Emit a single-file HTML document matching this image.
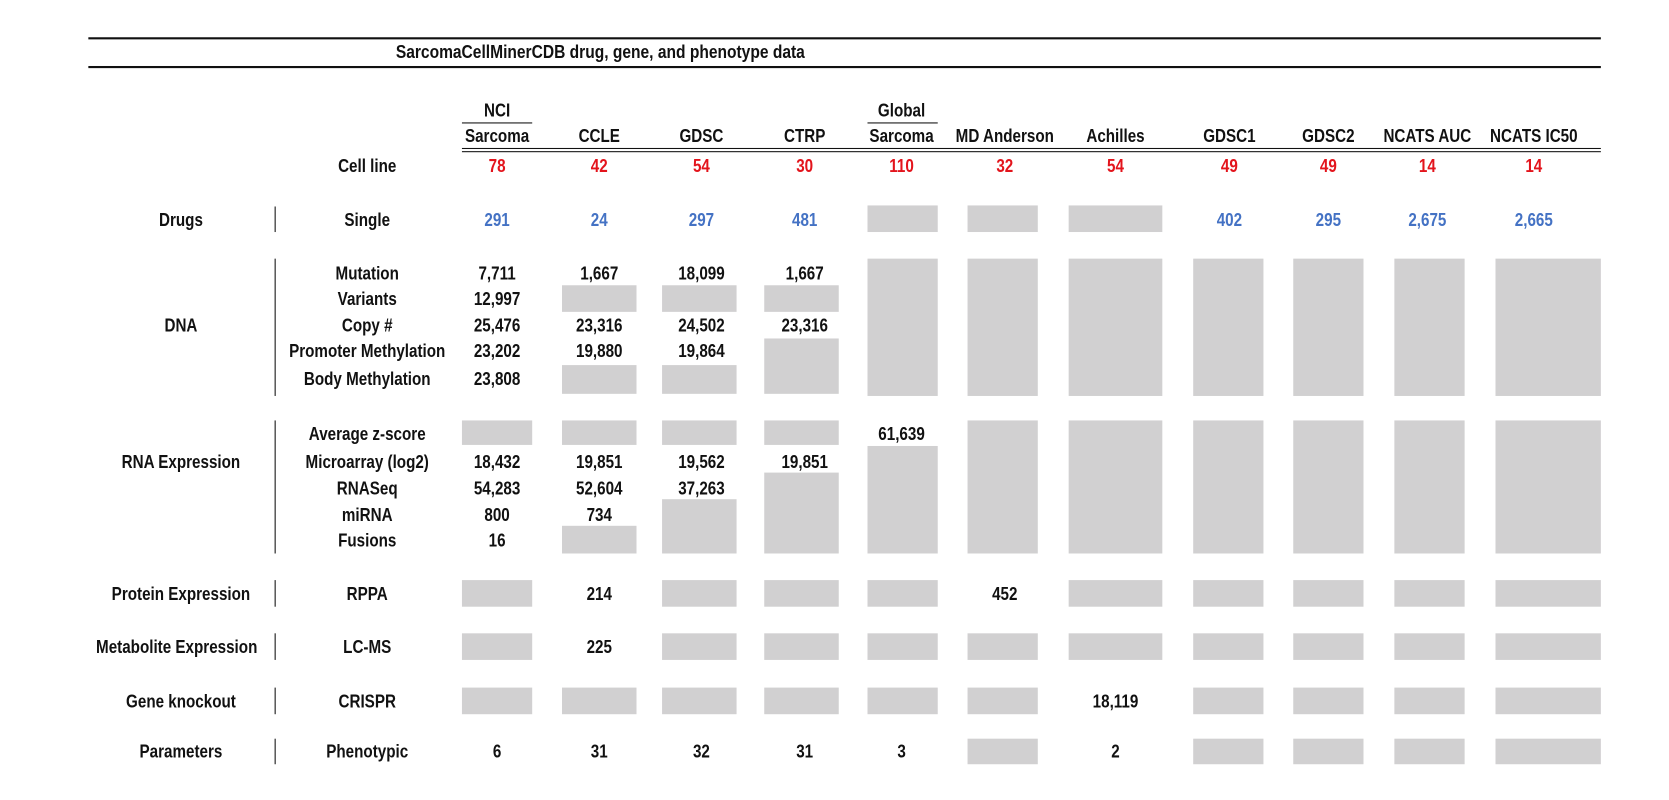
<!DOCTYPE html>
<html><head><meta charset="utf-8"><style>
body{margin:0;width:1669px;height:800px;background:#fff;position:relative;overflow:hidden;font-family:"Liberation Sans",sans-serif;font-weight:bold;font-size:17px;color:#111}
#w{position:absolute;left:0;top:0;width:1568px;height:752px;transform:scale(1.0644);transform-origin:0 0}
.t{position:absolute;transform:translate(-50%,-50%) scaleX(0.84);white-space:nowrap;line-height:1}
.b{position:absolute;background:#d1d0d1}
.r{color:#e3141c}.u{color:#4472c4}
.l{position:absolute;background:#111}
</style></head><body><div id="w">
<div class="l" style="left:83px;top:35px;width:1421px;height:2px"></div>
<div class="l" style="left:83px;top:62px;width:1421px;height:2px"></div>
<div class="t" style="left:564px;top:49px;font-size:17px;transform:translate(-50%,-50%) scaleX(0.86)">SarcomaCellMinerCDB drug, gene, and phenotype data</div>
<div class="t" style="left:467px;top:104px">NCI</div>
<div class="l" style="left:434px;top:115px;width:66px;height:1px"></div>
<div class="t" style="left:847px;top:104px">Global</div>
<div class="l" style="left:815px;top:115px;width:66px;height:1px"></div>
<div class="t" style="left:467px;top:128px">Sarcoma</div>
<div class="t" style="left:563px;top:128px">CCLE</div>
<div class="t" style="left:659px;top:128px">GDSC</div>
<div class="t" style="left:756px;top:128px">CTRP</div>
<div class="t" style="left:847px;top:128px">Sarcoma</div>
<div class="t" style="left:944px;top:128px">MD Anderson</div>
<div class="t" style="left:1048px;top:128px">Achilles</div>
<div class="t" style="left:1155px;top:128px">GDSC1</div>
<div class="t" style="left:1248px;top:128px">GDSC2</div>
<div class="t" style="left:1341px;top:128px">NCATS AUC</div>
<div class="t" style="left:1441px;top:128px">NCATS IC50</div>
<div class="l" style="left:434px;top:139px;width:1070px;height:1px"></div>
<div class="l" style="left:434px;top:142px;width:1070px;height:1px"></div>
<div class="t" style="left:345px;top:156px">Cell line</div>
<div class="t r" style="left:467px;top:156px">78</div>
<div class="t r" style="left:563px;top:156px">42</div>
<div class="t r" style="left:659px;top:156px">54</div>
<div class="t r" style="left:756px;top:156px">30</div>
<div class="t r" style="left:847px;top:156px">110</div>
<div class="t r" style="left:944px;top:156px">32</div>
<div class="t r" style="left:1048px;top:156px">54</div>
<div class="t r" style="left:1155px;top:156px">49</div>
<div class="t r" style="left:1248px;top:156px">49</div>
<div class="t r" style="left:1341px;top:156px">14</div>
<div class="t r" style="left:1441px;top:156px">14</div>

<div class="t" style="left:170px;top:207px">Drugs</div>
<div class="l" style="left:258px;top:194px;width:1px;height:24px"></div>
<div class="t" style="left:345px;top:207px">Single</div>
<div class="t u" style="left:467px;top:207px">291</div>
<div class="t u" style="left:563px;top:207px">24</div>
<div class="t u" style="left:659px;top:207px">297</div>
<div class="t u" style="left:756px;top:207px">481</div>
<div class="b" style="left:815px;top:193px;width:66px;height:25px"></div>
<div class="b" style="left:909px;top:193px;width:66px;height:25px"></div>
<div class="b" style="left:1004px;top:193px;width:88px;height:25px"></div>
<div class="t u" style="left:1155px;top:207px">402</div>
<div class="t u" style="left:1248px;top:207px">295</div>
<div class="t u" style="left:1341px;top:207px">2,675</div>
<div class="t u" style="left:1441px;top:207px">2,665</div>

<div class="t" style="left:170px;top:306px">DNA</div>
<div class="l" style="left:258px;top:243px;width:1px;height:129px"></div>
<div class="t" style="left:345px;top:257px">Mutation</div>
<div class="t" style="left:345px;top:281px">Variants</div>
<div class="t" style="left:345px;top:306px">Copy #</div>
<div class="t" style="left:345px;top:330px">Promoter Methylation</div>
<div class="t" style="left:345px;top:356px">Body Methylation</div>
<div class="t" style="left:467px;top:257px">7,711</div>
<div class="t" style="left:467px;top:281px">12,997</div>
<div class="t" style="left:467px;top:306px">25,476</div>
<div class="t" style="left:467px;top:330px">23,202</div>
<div class="t" style="left:467px;top:356px">23,808</div>
<div class="t" style="left:563px;top:257px">1,667</div>
<div class="b" style="left:528px;top:268px;width:70px;height:25px"></div>
<div class="t" style="left:563px;top:306px">23,316</div>
<div class="t" style="left:563px;top:330px">19,880</div>
<div class="b" style="left:528px;top:343px;width:70px;height:27px"></div>
<div class="t" style="left:659px;top:257px">18,099</div>
<div class="b" style="left:622px;top:268px;width:70px;height:25px"></div>
<div class="t" style="left:659px;top:306px">24,502</div>
<div class="t" style="left:659px;top:330px">19,864</div>
<div class="b" style="left:622px;top:343px;width:70px;height:27px"></div>
<div class="t" style="left:756px;top:257px">1,667</div>
<div class="b" style="left:718px;top:268px;width:70px;height:25px"></div>
<div class="t" style="left:756px;top:306px">23,316</div>
<div class="b" style="left:718px;top:318px;width:70px;height:52px"></div>
<div class="b" style="left:815px;top:243px;width:66px;height:129px"></div>
<div class="b" style="left:909px;top:243px;width:66px;height:129px"></div>
<div class="b" style="left:1004px;top:243px;width:88px;height:129px"></div>
<div class="b" style="left:1121px;top:243px;width:66px;height:129px"></div>
<div class="b" style="left:1215px;top:243px;width:66px;height:129px"></div>
<div class="b" style="left:1310px;top:243px;width:66px;height:129px"></div>
<div class="b" style="left:1405px;top:243px;width:99px;height:129px"></div>

<div class="t" style="left:170px;top:434px">RNA Expression</div>
<div class="l" style="left:258px;top:395px;width:1px;height:125px"></div>
<div class="t" style="left:345px;top:408px">Average z-score</div>
<div class="t" style="left:345px;top:434px">Microarray (log2)</div>
<div class="t" style="left:345px;top:459px">RNASeq</div>
<div class="t" style="left:345px;top:484px">miRNA</div>
<div class="t" style="left:345px;top:508px">Fusions</div>
<div class="b" style="left:434px;top:395px;width:66px;height:23px"></div>
<div class="b" style="left:528px;top:395px;width:70px;height:23px"></div>
<div class="b" style="left:622px;top:395px;width:70px;height:23px"></div>
<div class="b" style="left:718px;top:395px;width:70px;height:23px"></div>
<div class="t" style="left:467px;top:434px">18,432</div>
<div class="t" style="left:467px;top:459px">54,283</div>
<div class="t" style="left:467px;top:484px">800</div>
<div class="t" style="left:467px;top:508px">16</div>
<div class="t" style="left:563px;top:434px">19,851</div>
<div class="t" style="left:563px;top:459px">52,604</div>
<div class="t" style="left:563px;top:484px">734</div>
<div class="b" style="left:528px;top:494px;width:70px;height:26px"></div>
<div class="t" style="left:659px;top:434px">19,562</div>
<div class="t" style="left:659px;top:459px">37,263</div>
<div class="b" style="left:622px;top:469px;width:70px;height:51px"></div>
<div class="t" style="left:756px;top:434px">19,851</div>
<div class="b" style="left:718px;top:444px;width:70px;height:76px"></div>
<div class="t" style="left:847px;top:408px">61,639</div>
<div class="b" style="left:815px;top:419px;width:66px;height:101px"></div>
<div class="b" style="left:909px;top:395px;width:66px;height:125px"></div>
<div class="b" style="left:1004px;top:395px;width:88px;height:125px"></div>
<div class="b" style="left:1121px;top:395px;width:66px;height:125px"></div>
<div class="b" style="left:1215px;top:395px;width:66px;height:125px"></div>
<div class="b" style="left:1310px;top:395px;width:66px;height:125px"></div>
<div class="b" style="left:1405px;top:395px;width:99px;height:125px"></div>

<div class="t" style="left:170px;top:558px">Protein Expression</div>
<div class="l" style="left:258px;top:545px;width:1px;height:25px"></div>
<div class="t" style="left:345px;top:558px">RPPA</div>
<div class="b" style="left:434px;top:545px;width:66px;height:25px"></div>
<div class="t" style="left:563px;top:558px">214</div>
<div class="b" style="left:622px;top:545px;width:70px;height:25px"></div>
<div class="b" style="left:718px;top:545px;width:70px;height:25px"></div>
<div class="b" style="left:815px;top:545px;width:66px;height:25px"></div>
<div class="t" style="left:944px;top:558px">452</div>
<div class="b" style="left:1004px;top:545px;width:88px;height:25px"></div>
<div class="b" style="left:1121px;top:545px;width:66px;height:25px"></div>
<div class="b" style="left:1215px;top:545px;width:66px;height:25px"></div>
<div class="b" style="left:1310px;top:545px;width:66px;height:25px"></div>
<div class="b" style="left:1405px;top:545px;width:99px;height:25px"></div>

<div class="t" style="left:166px;top:608px">Metabolite Expression</div>
<div class="l" style="left:258px;top:595px;width:1px;height:25px"></div>
<div class="t" style="left:345px;top:608px">LC-MS</div>
<div class="b" style="left:434px;top:595px;width:66px;height:25px"></div>
<div class="t" style="left:563px;top:608px">225</div>
<div class="b" style="left:622px;top:595px;width:70px;height:25px"></div>
<div class="b" style="left:718px;top:595px;width:70px;height:25px"></div>
<div class="b" style="left:815px;top:595px;width:66px;height:25px"></div>
<div class="b" style="left:909px;top:595px;width:66px;height:25px"></div>
<div class="b" style="left:1004px;top:595px;width:88px;height:25px"></div>
<div class="b" style="left:1121px;top:595px;width:66px;height:25px"></div>
<div class="b" style="left:1215px;top:595px;width:66px;height:25px"></div>
<div class="b" style="left:1310px;top:595px;width:66px;height:25px"></div>
<div class="b" style="left:1405px;top:595px;width:99px;height:25px"></div>

<div class="t" style="left:170px;top:659px">Gene knockout</div>
<div class="l" style="left:258px;top:646px;width:1px;height:25px"></div>
<div class="t" style="left:345px;top:659px">CRISPR</div>
<div class="b" style="left:434px;top:646px;width:66px;height:25px"></div>
<div class="b" style="left:528px;top:646px;width:70px;height:25px"></div>
<div class="b" style="left:622px;top:646px;width:70px;height:25px"></div>
<div class="b" style="left:718px;top:646px;width:70px;height:25px"></div>
<div class="b" style="left:815px;top:646px;width:66px;height:25px"></div>
<div class="b" style="left:909px;top:646px;width:66px;height:25px"></div>
<div class="t" style="left:1048px;top:659px">18,119</div>
<div class="b" style="left:1121px;top:646px;width:66px;height:25px"></div>
<div class="b" style="left:1215px;top:646px;width:66px;height:25px"></div>
<div class="b" style="left:1310px;top:646px;width:66px;height:25px"></div>
<div class="b" style="left:1405px;top:646px;width:99px;height:25px"></div>

<div class="t" style="left:170px;top:706px">Parameters</div>
<div class="l" style="left:258px;top:694px;width:1px;height:24px"></div>
<div class="t" style="left:345px;top:706px">Phenotypic</div>
<div class="t" style="left:467px;top:706px">6</div>
<div class="t" style="left:563px;top:706px">31</div>
<div class="t" style="left:659px;top:706px">32</div>
<div class="t" style="left:756px;top:706px">31</div>
<div class="t" style="left:847px;top:706px">3</div>
<div class="b" style="left:909px;top:694px;width:66px;height:24px"></div>
<div class="t" style="left:1048px;top:706px">2</div>
<div class="b" style="left:1121px;top:694px;width:66px;height:24px"></div>
<div class="b" style="left:1215px;top:694px;width:66px;height:24px"></div>
<div class="b" style="left:1310px;top:694px;width:66px;height:24px"></div>
<div class="b" style="left:1405px;top:694px;width:99px;height:24px"></div>
</div></body></html>
